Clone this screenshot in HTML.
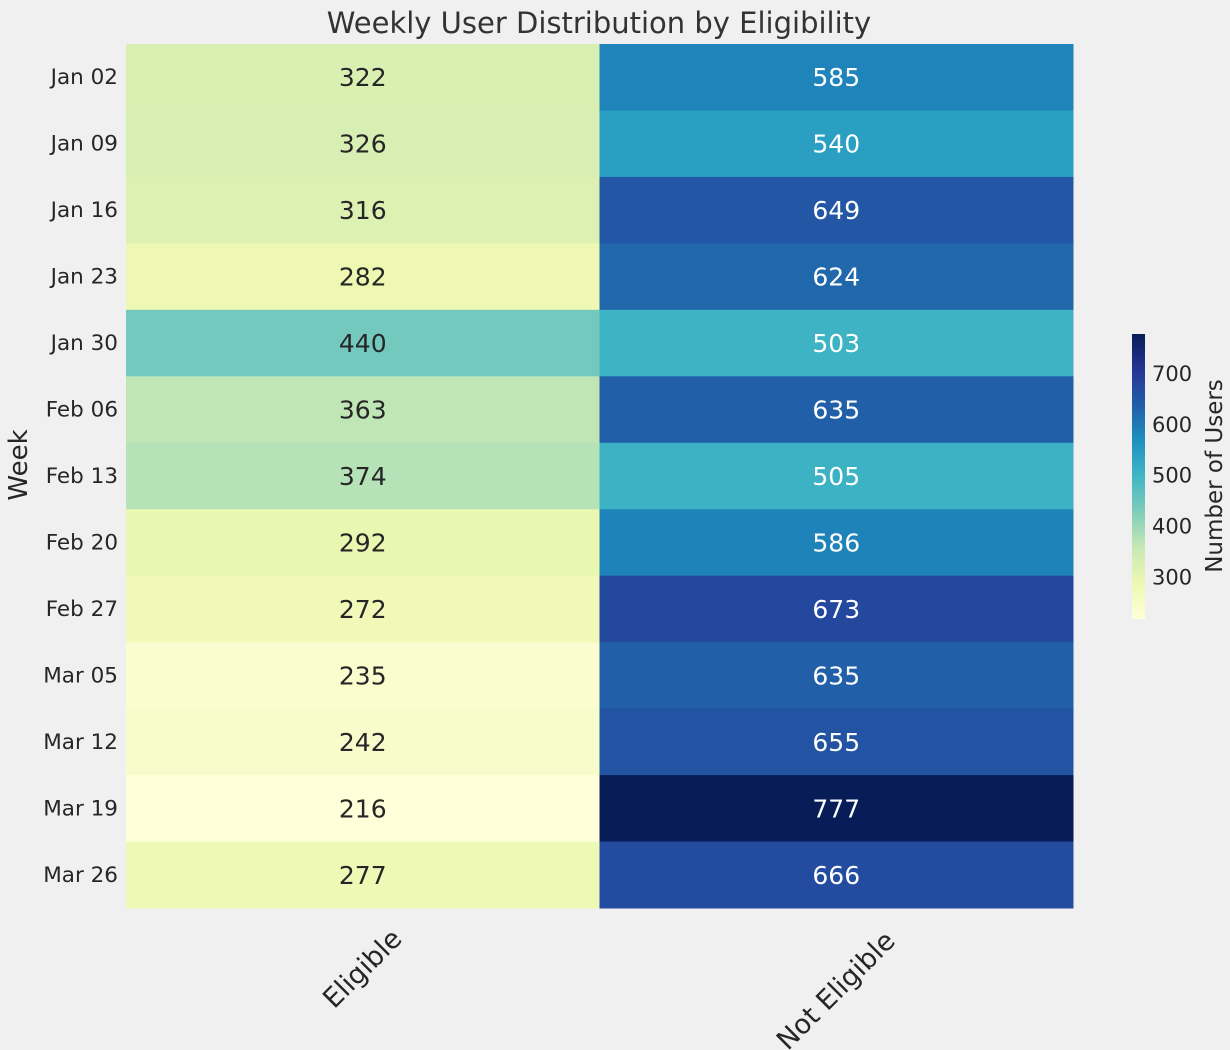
<!DOCTYPE html>
<html><head><meta charset="utf-8"><style>
html,body{margin:0;padding:0;background:#f0f0f0}
svg{display:block;font-family:"DejaVu Sans","Liberation Sans",sans-serif}
</style></head><body>
<svg id="chart" width="1230" height="1050" viewBox="0 0 1230 1050">
<rect width="1230" height="1050" fill="#f0f0f0"/>
<text x="599" y="33" text-anchor="middle" font-size="29" fill="#333">Weekly User Distribution by Eligibility</text>
<text transform="translate(27,465) rotate(-90)" text-anchor="middle" font-size="26" fill="#262626">Week</text>
<g id="cells"></g><g id="ylabels"></g><g id="xlabels"></g>
<defs><linearGradient id="cbgrad" x1="0" y1="1" x2="0" y2="0"></linearGradient></defs>
<rect x="1132" y="334" width="13" height="285" fill="url(#cbgrad)"/>
<g id="cbticks"></g>
<text transform="translate(1222,476) rotate(-90)" text-anchor="middle" font-size="23" fill="#262626">Number of Users</text>
</svg>
<script>
const weeks=["Jan 02","Jan 09","Jan 16","Jan 23","Jan 30","Feb 06","Feb 13","Feb 20","Feb 27","Mar 05","Mar 12","Mar 19","Mar 26"];
const categories=["Eligible","Not Eligible"];
const eligible=[322,326,316,282,440,363,374,292,272,235,242,216,277];
const notEligible=[585,540,649,624,503,635,505,586,673,635,655,777,666];
const cbTicks=[300,400,500,600,700];
const stops=["#ffffd9","#edf8b1","#c7e9b4","#7fcdbb","#41b6c4","#1d91c0","#225ea8","#253494","#081d58"];
const NS="http://www.w3.org/2000/svg";
const L=126,R=1073,T=44,B=908;
const all=eligible.concat(notEligible);
const vmin=Math.min(...all),vmax=Math.max(...all);
const rowH=(B-T)/weeks.length,colW=(R-L)/categories.length;
function hex(h){return [1,3,5].map(i=>parseInt(h.substr(i,2),16));}
function cmap(v){let t=(v-vmin)/(vmax-vmin);t=Math.max(0,Math.min(1,t));const p=t*(stops.length-1);const i=Math.min(Math.floor(p),stops.length-2);const f=p-i;const a=hex(stops[i]),b=hex(stops[i+1]);return a.map((x,k)=>Math.round(x+(b[k]-x)*f));}
function lum(c){const l=c.map(x=>{x/=255;return x<=0.03928?x/12.92:Math.pow((x+0.055)/1.055,2.4)});return 0.2126*l[0]+0.7152*l[1]+0.0722*l[2];}
function mk(tag,attrs,parent){const e=document.createElementNS(NS,tag);for(const k in attrs)e.setAttribute(k,attrs[k]);parent.appendChild(e);return e;}
const cells=document.getElementById('cells');
const series=[eligible,notEligible];
series.forEach((s,ci)=>{s.forEach((v,ri)=>{
 const c=cmap(v);
 const r=mk('rect',{x:L+ci*colW,y:T+ri*rowH,width:colW+0.5,height:rowH+0.5,fill:`rgb(${c})`},cells);
 
 
 const t=mk('text',{x:L+(ci+0.5)*colW,y:T+(ri+0.5)*rowH+9,'text-anchor':'middle','font-size':25,fill:lum(c)>0.408?'#262626':'#ffffff'},cells);
 t.textContent=v;
 
 
});});
const yl=document.getElementById('ylabels');
weeks.forEach((w,i)=>{const t=mk('text',{x:118,y:T+(i+0.5)*rowH+7,'text-anchor':'end','font-size':21.5,fill:'#262626'},yl);t.textContent=w;
 
 });
const xl=document.getElementById('xlabels');
categories.forEach((c,i)=>{const cx=L+(i+0.5)*colW;const len=c.length*15.5;const cy=916+(len+26)*0.707/2;
 const t=mk('text',{transform:`translate(${cx},${cy}) rotate(-45)`,'text-anchor':'middle','dominant-baseline':'central','font-size':27,fill:'#262626'},xl);t.textContent=c;
 
 });
const g=document.getElementById('cbgrad');
stops.forEach((s,i)=>mk('stop',{offset:i/(stops.length-1),'stop-color':s},g));
const cbT=334,cbB=619;
const cbt=document.getElementById('cbticks');
cbTicks.forEach(v=>{const y=cbB-(v-vmin)/(vmax-vmin)*(cbB-cbT);const t=mk('text',{x:1152,y:y+8,'font-size':21,fill:'#262626'},cbt);t.textContent=v;
 
 });
</script>
</body></html>
